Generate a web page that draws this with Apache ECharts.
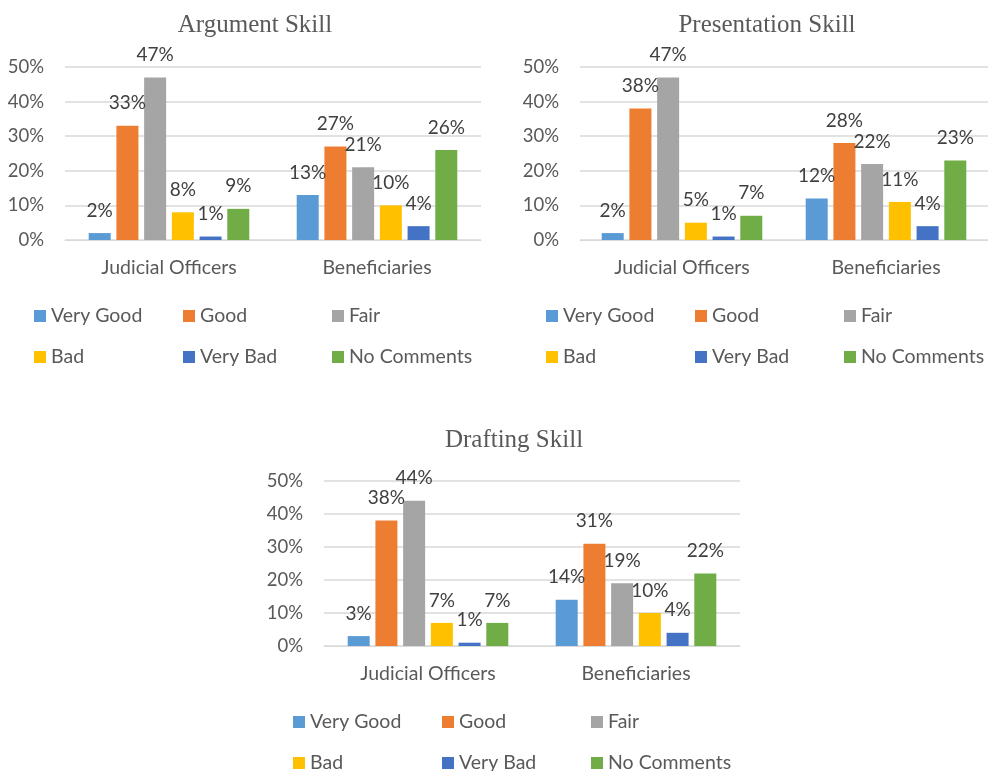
<!DOCTYPE html>
<html>
<head>
<meta charset="utf-8">
<script src="https://cdn.jsdelivr.net/npm/echarts@6/dist/echarts.min.js"></script>
<style>
  html, body { margin: 0; padding: 0; background: #fff; }
  #main { width: 988px; height: 771px; }
</style>
</head>
<body>
<div id="main"></div>
<script>
// 数据
const categories = ["Judicial Officers", "Beneficiaries"];
const ratings = ["Very Good", "Good", "Fair", "Bad", "Very Bad", "No Comments"];
const colors = ["#5B9BD5", "#ED7D31", "#A5A5A5", "#FFC000", "#4472C4", "#70AD47"];
const yTicks = [0, 10, 20, 30, 40, 50];

// each row: [Judicial Officers, Beneficiaries] for one rating
const argumentSkill = [[2, 13], [33, 27], [47, 21], [8, 10], [1, 4], [9, 26]];
const presentationSkill = [[2, 12], [38, 28], [47, 22], [5, 11], [1, 4], [7, 23]];
const draftingSkill = [[3, 14], [38, 31], [44, 19], [7, 10], [1, 4], [7, 22]];

const panels = [
  { title: "Argument Skill", data: argumentSkill, grid: { left: 65, top: 67, width: 416, height: 173 }, titleX: 250, titleY: 8, legend: { left: 34, top: 306 } },
  { title: "Presentation Skill", data: presentationSkill, grid: { left: 580, top: 67, width: 408, height: 173 }, titleX: 762, titleY: 8, legend: { left: 546, top: 306 } },
  { title: "Drafting Skill", data: draftingSkill, grid: { left: 324, top: 481, width: 416, height: 165 }, titleX: 509, titleY: 423, legend: { left: 293, top: 712 } }
];

const grey = "#595959";
let myChart = echarts.init(document.getElementById("main"));

let option = {
  animation: false,
  color: colors,
  title: [],
  legend: [],
  grid: [],
  xAxis: [],
  yAxis: [],
  series: []
};

panels.forEach((p, i) => {
  option.title.push({
    text: p.title,
    left: p.titleX,
    top: p.titleY,
    textAlign: "center",
    textStyle: { fontFamily: "Liberation Serif", fontWeight: "normal", fontSize: 25, color: grey }
  });
  // 两行图例，每行三个
  [ratings.slice(0, 3), ratings.slice(3)].forEach((row, r) => {
    option.legend.push({
      data: row,
      left: p.legend.left,
      top: p.legend.top + r * 41,
      width: 520,
      padding: 0,
      icon: "rect",
      itemWidth: 12,
      itemHeight: 12,
      itemGap: 7,
      textStyle: { fontFamily: "Lato", fontSize: 19.5, color: grey, width: 125, lineHeight: 20 }
    });
  });
  option.grid.push(Object.assign({ containLabel: false }, p.grid));
  option.xAxis.push({
    type: "category",
    gridIndex: i,
    data: categories,
    axisLine: { lineStyle: { color: "#D9D9D9" } },
    axisTick: { show: false },
    axisLabel: { fontFamily: "Lato", fontSize: 19.5, color: grey, margin: 18 }
  });
  option.yAxis.push({
    type: "value",
    gridIndex: i,
    min: yTicks[0],
    max: yTicks[yTicks.length - 1],
    interval: 10,
    axisLine: { show: false },
    axisTick: { show: false },
    splitLine: { lineStyle: { color: "#D9D9D9", width: 1.5 } },
    axisLabel: { fontFamily: "Lato", fontSize: 18.5, color: grey, margin: 21, formatter: "{value}%" }
  });
  ratings.forEach((name, k) => {
    option.series.push({
      name: name,
      type: "bar",
      xAxisIndex: i,
      yAxisIndex: i,
      data: p.data[k],
      barWidth: 22,
      barGap: "26%",
      itemStyle: { color: colors[k] },
      label: {
        show: true,
        position: "top",
        distance: 13,
        formatter: "{c}%",
        fontFamily: "Lato",
        fontSize: 19,
        color: "#404040"
      }
    });
  });
});

option && myChart.setOption(option);
</script>
</body>
</html>
